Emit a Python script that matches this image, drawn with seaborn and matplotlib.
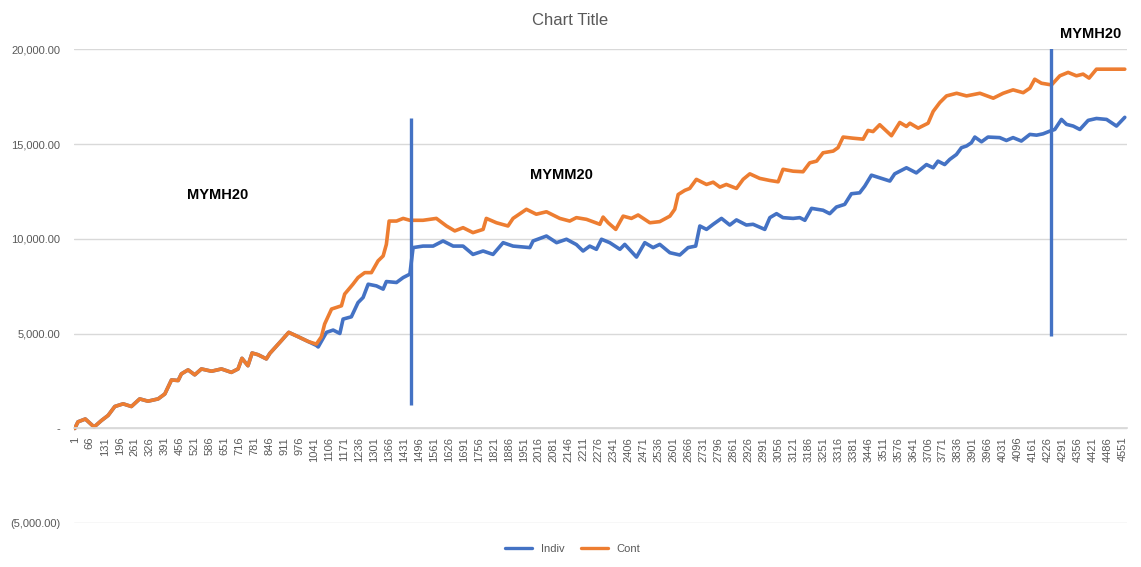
import pandas as pd
import matplotlib
matplotlib.use("Agg")
import matplotlib.pyplot as plt
import seaborn as sns
from matplotlib.ticker import FuncFormatter

# ---------------------------------------------------------------------------
# data (row number, running total)
# ---------------------------------------------------------------------------
cont_x = [1, 15, 47, 85, 117, 146, 175, 211, 247, 283, 319, 363, 392, 421, 450,
          464, 493, 522, 551, 595, 638, 681, 710, 727, 753, 771, 797, 833, 848,
          869, 898, 930, 971, 1014, 1050, 1072, 1086, 1116, 1159, 1173, 1209,
          1231, 1260, 1289, 1318, 1340, 1354, 1366, 1398, 1427, 1456, 1513,
          1571, 1615, 1651, 1687, 1730, 1774, 1788, 1832, 1882, 1904, 1962,
          2005, 2049, 2107, 2150, 2179, 2223, 2281, 2295, 2317, 2350, 2382,
          2418, 2447, 2498, 2541, 2585, 2606, 2621, 2650, 2671, 2700, 2744,
          2773, 2802, 2830, 2874, 2903, 2932, 2975, 3019, 3055, 3076, 3120,
          3163, 3192, 3222, 3250, 3294, 3315, 3337, 3380, 3424, 3445, 3467,
          3496, 3547, 3583, 3612, 3627, 3663, 3706, 3728, 3757, 3786, 3830,
          3873, 3931, 3989, 4032, 4075, 4119, 4148, 4169, 4198, 4242, 4278,
          4314, 4350, 4379, 4405, 4437, 4560]
cont_y = [0, 350, 500, 80, 420, 690, 1160, 1300, 1160, 1560, 1440, 1560, 1820,
          2560, 2530, 2880, 3090, 2830, 3140, 3020, 3140, 2960, 3140, 3700,
          3310, 3980, 3890, 3670, 3960, 4240, 4630, 5070, 4840, 4590, 4450,
          4840, 5510, 6300, 6470, 7090, 7610, 7960, 8220, 8220, 8840, 9100,
          9710, 10940, 10940, 11080, 10980, 10980, 11080, 10680, 10420, 10590,
          10330, 10500, 11080, 10850, 10680, 11080, 11560, 11300, 11430, 11080,
          10940, 11120, 11030, 10770, 11150, 10850, 10500, 11200, 11080, 11260,
          10850, 10910, 11200, 11560, 12340, 12560, 12660, 13140, 12870, 12990,
          12730, 12870, 12660, 13140, 13430, 13190, 13080, 13010, 13670, 13570,
          13540, 14010, 14100, 14540, 14630, 14810, 15370, 15310, 15260, 15720,
          15660, 16020, 15440, 16140, 15930, 16100, 15840, 16100, 16720, 17190,
          17540, 17680, 17540, 17680, 17420, 17680, 17860, 17710, 17950, 18420,
          18210, 18120, 18600, 18780, 18600, 18690, 18480, 18950, 18950]

indiv_x = [1, 15, 47, 85, 117, 146, 175, 211, 247, 283, 319, 363, 392, 421, 450,
           464, 493, 522, 551, 595, 638, 681, 710, 727, 753, 771, 797, 833, 848,
           869, 898, 930, 971, 1014, 1050, 1058, 1094, 1123, 1152, 1166, 1202,
           1231, 1253, 1275, 1311, 1340, 1354, 1398, 1427, 1456, 1470, 1513,
           1557, 1600, 1644, 1687, 1730, 1774, 1817, 1861, 1904, 1977, 1991,
           2049, 2093, 2136, 2179, 2208, 2237, 2266, 2288, 2324, 2368, 2389,
           2440, 2476, 2512, 2541, 2585, 2628, 2664, 2697, 2715, 2744, 2773,
           2809, 2845, 2874, 2917, 2946, 2997, 3019, 3048, 3076, 3120, 3149,
           3171, 3200, 3250, 3279, 3308, 3344, 3373, 3409, 3431, 3460, 3496,
           3540, 3561, 3612, 3655, 3699, 3728, 3749, 3778, 3800, 3829, 3851,
           3873, 3894, 3909, 3938, 3966, 4017, 4046, 4075, 4111, 4148, 4177,
           4205, 4234, 4256, 4285, 4307, 4336, 4365, 4401, 4437, 4481, 4524,
           4560]
indiv_y = [0, 350, 500, 80, 420, 690, 1160, 1300, 1160, 1560, 1440, 1560, 1820,
           2560, 2530, 2880, 3090, 2830, 3140, 3020, 3140, 2960, 3140, 3700,
           3310, 3980, 3890, 3670, 3960, 4240, 4630, 5070, 4840, 4590, 4380,
           4300, 5070, 5190, 5010, 5770, 5890, 6640, 6910, 7610, 7520, 7350,
           7750, 7700, 7960, 8140, 9540, 9620, 9620, 9890, 9620, 9620, 9180,
           9360, 9180, 9800, 9620, 9540, 9890, 10150, 9800, 9980, 9700, 9360,
           9620, 9450, 9980, 9800, 9450, 9710, 9040, 9800, 9540, 9710, 9270,
           9150, 9540, 9620, 10680, 10500, 10770, 11080, 10730, 11000, 10730,
           10770, 10500, 11120, 11330, 11120, 11080, 11120, 10980, 11610, 11510,
           11330, 11680, 11820, 12380, 12430, 12780, 13360, 13220, 13050, 13430,
           13750, 13480, 13920, 13750, 14100, 13920, 14190, 14450, 14810, 14900,
           15070, 15370, 15120, 15370, 15340, 15190, 15340, 15160, 15510, 15470,
           15540, 15680, 15770, 16300, 16040, 15950, 15770, 16250, 16350, 16300,
           15950, 16410]

series_names = ["Indiv", "Cont"]
series_colors = ["#4472C4", "#ED7D31"]

# contract roll markers
marker_x = [1460, 4239]
marker_ymin = [1250, 4900]
marker_ymax = [16400, 20050]
label_text = ["MYMH20", "MYMM20", "MYMH20"]
label_x = [622, 2116, 4413]
label_y = [12330, 13380, 20800]

tick_rows = list(range(1, 4552, 65))

# ---------------------------------------------------------------------------
# long-form table for seaborn
# ---------------------------------------------------------------------------
df = pd.concat([
    pd.DataFrame({"row": indiv_x, "value": indiv_y, "series": "Indiv"}),
    pd.DataFrame({"row": cont_x, "value": cont_y, "series": "Cont"}),
], ignore_index=True)

sns.set_theme(style="white")
plt.rcParams["font.family"] = ["Liberation Sans", "DejaVu Sans"]

grey = "#595959"
fig = plt.figure(figsize=(11.41, 5.67), dpi=100)
ax = fig.add_axes([0.0649, 0.0771, 0.9229, 0.8360])

sns.lineplot(data=df, x="row", y="value", hue="series", hue_order=series_names,
             palette=series_colors, linewidth=2.6, ax=ax, legend=False,
             estimator=None)

ax.vlines(marker_x, marker_ymin, marker_ymax, colors="#4472C4", linewidth=2.4,
          zorder=5)
for t, x, y in zip(label_text, label_x, label_y):
    ax.text(x, y, t, ha="center", va="center", fontsize=10.5,
            fontweight="bold", color="black", clip_on=False)

# axis styling (spine first: moving it rebuilds the ticks)
for s in ["top", "right", "left"]:
    ax.spines[s].set_visible(False)
ax.spines["bottom"].set_position(("data", 0))
ax.spines["bottom"].set_color("#D9D9D9")

ax.set_xlim(-2, 4570)
ax.set_ylim(-5000, 20000)
ax.set_yticks(range(-5000, 20001, 5000))
ax.set_xticks(tick_rows)
ax.set_xticklabels([str(v) for v in tick_rows])


def fmt(v, pos):
    if v == 0:
        return "-"
    if v < 0:
        return "({:,.2f})".format(-v)
    return "{:,.2f}".format(v)


ax.yaxis.set_major_formatter(FuncFormatter(fmt))
ax.grid(axis="y", color="#D9D9D9", linewidth=1)
ax.set_axisbelow(True)
ax.tick_params(axis="x", length=0, pad=6, labelsize=8, labelcolor=grey,
               labelrotation=90)
ax.tick_params(axis="y", length=0, pad=10, labelsize=8, labelcolor=grey)
ax.set_xlabel("")
ax.set_ylabel("")

fig.text(0.4996, 0.963, "Chart Title", ha="center", va="center", fontsize=12,
         color=grey)

handles = [plt.Line2D([], [], color=c, linewidth=2.4) for c in series_colors]
fig.legend(handles, series_names, loc="center", bbox_to_anchor=(0.502, 0.032),
           ncol=2, frameon=False, fontsize=8, labelcolor=grey,
           handlelength=2.4, columnspacing=1.5)

fig.savefig("out.png", dpi=100)
